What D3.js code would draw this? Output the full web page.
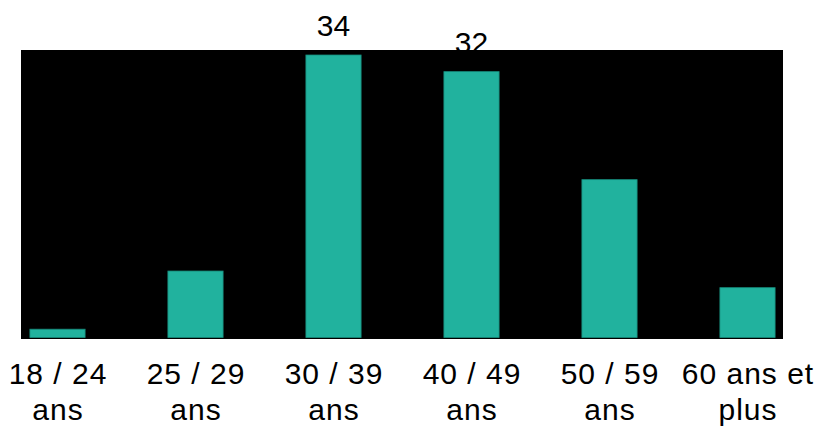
<!DOCTYPE html>
<html><head><meta charset="utf-8">
<script src="https://cdn.jsdelivr.net/npm/d3@7"></script>
<style>html,body{margin:0;padding:0;background:#fff;}svg{display:block;}</style>
</head><body>
<svg id="chart" width="817" height="428"></svg>
<script>
const categories = ["18 / 24 ans", "25 / 29 ans", "30 / 39 ans", "40 / 49 ans", "50 / 59 ans", "60 ans et plus"];
const tickLines = [["18 / 24", "ans"], ["25 / 29", "ans"], ["30 / 39", "ans"], ["40 / 49", "ans"], ["50 / 59", "ans"], ["60 ans et", "plus"]];
const values = [1, 8, 34, 32, 19, 6];

const svg = d3.select("#chart");
const font = "'Liberation Sans', Arial, sans-serif";

const x = d3.scaleBand().domain(categories).range([-11.5, 816.5]).paddingInner(0.6).paddingOuter(0.3);
const y = d3.scaleLinear().domain([0, 34]).range([337.5, 55]);

// plot background
svg.append("rect").attr("x", 21).attr("y", 50).attr("width", 762).attr("height", 289).attr("fill", "#000");

// bars
svg.selectAll("rect.bar").data(values).enter().append("rect")
  .attr("class", "bar")
  .attr("x", (d, i) => x(categories[i]))
  .attr("width", x.bandwidth())
  .attr("y", d => y(d))
  .attr("height", d => y(0) - y(d))
  .attr("fill", "#21B29E")
  .attr("stroke", "#168a7a")
  .attr("stroke-width", 0.8);

// value labels (black)
svg.selectAll("text.val").data(values).enter().append("text")
  .attr("class", "val")
  .attr("x", (d, i) => x(categories[i]) + x.bandwidth() / 2)
  .attr("y", d => y(d) - 19)
  .attr("text-anchor", "middle")
  .attr("font-family", font)
  .attr("font-size", 30)
  .attr("fill", "#000")
  .text(d => d);

// category axis
const axis = d3.axisBottom(x).tickSize(0).tickPadding(0);
const g = svg.append("g").attr("transform", "translate(0,339)").call(axis);
g.select(".domain").remove();
g.selectAll(".tick text").each(function(d, i) {
  const t = d3.select(this);
  t.text(null).attr("y", 0).attr("dy", null)
    .attr("font-family", font).attr("font-size", 30).attr("fill", "#000")
    .attr("letter-spacing", 1);
  tickLines[i].forEach((line, j) => {
    t.append("tspan").attr("x", 0.5).attr("y", 45 + j * 36).text(line);
  });
});
</script>
</body></html>
